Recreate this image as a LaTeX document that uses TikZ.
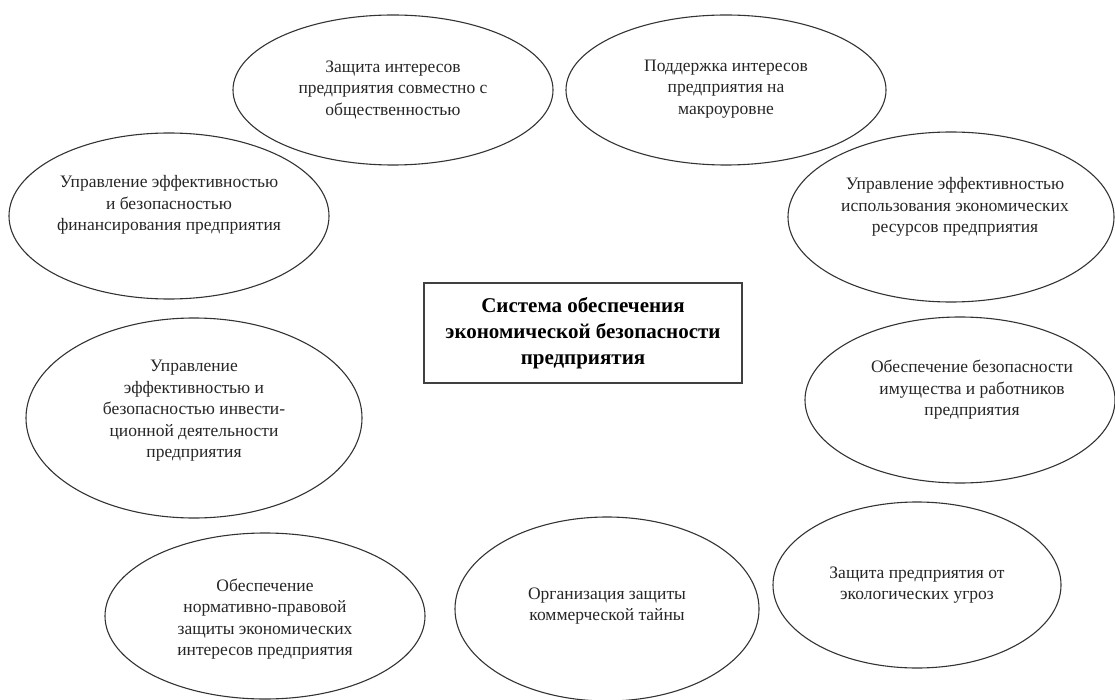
\documentclass[tikz,border=0pt]{standalone}
\usepackage{fontspec}
\setmainfont{Liberation Serif}
\usetikzlibrary{shapes.geometric}

\begin{document}
\begin{tikzpicture}[x=1pt, y=-1pt]

        \tikzset{
            bubble/.style={
                ellipse,
                draw = black!80,
                line width = 1.1pt,
                inner sep = 0pt
            },
            txt/.style={
                align = center,
                inner sep = 0pt,
                text = black!85,
                font = \fontsize{17.5}{21.5}\selectfont
            }
        }
        \tikzset{core/.style={draw = black!75, line width = 1.4pt, align = center,
            minimum width = 318, minimum height = 100,
            font = \fontsize{21}{26}\selectfont\bfseries}}

        \useasboundingbox (0,0) rectangle (1115,700);

        % centre
        \node[core] (sys) at (583,333)
            {Система обеспечения\\экономической безопасности\\предприятия};

        % ring of tasks
        \node[bubble, minimum width=320, minimum height=150,
            label={[txt, name=obsh-t]center:{Защита интересов\\предприятия совместно с\\общественностью}}]
            (obsh) at (393,90) {};
        \node[bubble, minimum width=320, minimum height=150,
            label={[txt, name=makro-t, yshift=1]center:{Поддержка интересов\\предприятия на\\макроуровне}}]
            (makro) at (726,90) {};
        \node[bubble, minimum width=320, minimum height=166,
            label={[txt, name=fin-t, yshift=11]center:{Управление эффективностью\\и безопасностью\\финансирования предприятия}}]
            (fin) at (169,216) {};
        \node[bubble, minimum width=326, minimum height=170,
            label={[txt, name=res-t, yshift=10, xshift=4]center:{Управление эффективностью\\использования экономических\\ресурсов предприятия}}]
            (res) at (951,217) {};
        \node[bubble, minimum width=336, minimum height=200,
            label={[txt, name=invest-t, yshift=7]center:{Управление\\эффективностью и\\безопасностью инвести-\\ционной деятельности\\предприятия}}]
            (invest) at (194,418) {};
        \node[bubble, minimum width=310, minimum height=166,
            label={[txt, name=imush-t, yshift=10, xshift=12]center:{Обеспечение безопасности\\имущества и работников\\предприятия}}]
            (imush) at (960,400) {};
        \node[bubble, minimum width=320, minimum height=166,
            label={[txt, name=norm-t, yshift=-3]center:{Обеспечение\\нормативно-правовой\\защиты экономических\\интересов предприятия}}]
            (norm) at (265,616) {};
        \node[bubble, minimum width=304, minimum height=184,
            label={[txt, name=taina-t, yshift=3]center:{Организация защиты\\коммерческой тайны}}]
            (taina) at (607,609) {};
        \node[bubble, minimum width=288, minimum height=166,
            label={[txt, name=eco-t]center:{Защита предприятия от\\экологических угроз}}]
            (eco) at (917,585) {};

\end{tikzpicture}
\end{document}
